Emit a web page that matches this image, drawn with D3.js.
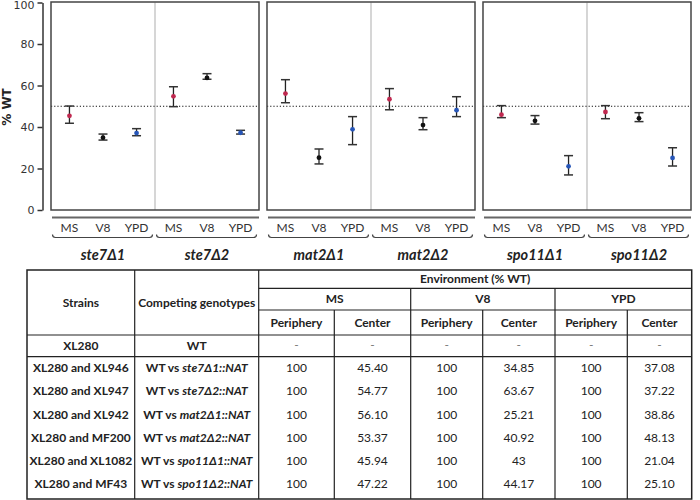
<!DOCTYPE html>
<html><head><meta charset="utf-8">
<script src="https://cdn.jsdelivr.net/npm/d3@7"></script>
<style>body{margin:0;background:#fff}svg{display:block}</style>
</head><body>
<svg id="c" width="700" height="500"></svg>
<script>
// ---------- data ----------
const mutants = ["ste7Δ1","ste7Δ2","mat2Δ1","mat2Δ2","spo11Δ1","spo11Δ2"];
const envs = ["MS","V8","YPD"];
const centerMS  = ["45.40","54.77","56.10","53.37","45.94","47.22"];
const centerV8  = ["34.85","63.67","25.21","40.92","43","44.17"];
const centerYPD = ["37.08","37.22","38.86","48.13","21.04","25.10"];
const lowMS  = [41.8,49.8,51.7,48.3,44.5,44.0];
const highMS = [50.1,59.4,62.8,58.5,50.3,50.3];
const lowV8  = [33.7,63.0,22.2,38.7,41.4,42.6];
const highV8 = [36.6,65.7,29.4,44.5,45.5,46.9];
const lowYPD  = [35.8,36.6,31.5,45.0,16.9,21.2];
const highYPD = [39.2,38.4,45.0,54.6,26.2,30.0];
const yTicks = [0,20,40,60,80,100];
const strains = ["XL280 and XL946","XL280 and XL947","XL280 and XL942","XL280 and MF200","XL280 and XL1082","XL280 and MF43"];
const genotypes = ["ste7Δ1::NAT","ste7Δ2::NAT","mat2Δ1::NAT","mat2Δ2::NAT","spo11Δ1::NAT","spo11Δ2::NAT"];
const periphery = ["100","100","100","100","100","100"];
const envColors = {MS:"#c0284f", V8:"#111111", YPD:"#2756b8"};

const centers = {MS:centerMS, V8:centerV8, YPD:centerYPD};
const lows = {MS:lowMS, V8:lowV8, YPD:lowYPD};
const highs = {MS:highMS, V8:highV8, YPD:highYPD};

const points = [];
mutants.forEach((m,i)=>envs.forEach(e=>points.push({m, i, e, v:+centers[e][i], lo:lows[e][i], hi:highs[e][i]})));

// ---------- chart ----------
const svg = d3.select("#c");
const sans = "Lato, 'Open Sans', sans-serif";
const y = d3.scaleLinear().domain([0,100]).range([210,2.5]);
const panelX = d3.scaleBand().domain([0,1,2]).range([51,691]).paddingInner(0.037);
const pw = panelX.bandwidth();
const halfX = d3.scaleBand().domain([0,1]).range([0,pw]);
const envX = d3.scalePoint().domain(envs).range([0,halfX.bandwidth()]).padding(0.55);
const xOf = (i,e) => panelX(Math.floor(i/2)) + halfX(i%2) + envX(e);

// y axis
const ax = svg.append("g").attr("transform","translate(42.5,0)")
  .call(d3.axisLeft(y).tickValues(yTicks).tickSize(5).tickSizeOuter(0).tickPadding(3));
ax.select(".domain").attr("stroke","#333").attr("stroke-width",1.5);
ax.selectAll(".tick line").attr("stroke","#333").attr("stroke-width",1.5);
ax.selectAll("text").attr("font-family","'DejaVu Sans', sans-serif").attr("font-size",11).attr("fill","#333");
ax.selectAll(".tick").filter(d=>d===100).select("text").attr("dy","0.55em");
svg.append("text").attr("transform","translate(11,107) rotate(-90)").attr("text-anchor","middle")
  .attr("font-family","'DejaVu Sans', sans-serif").attr("font-weight","bold").attr("font-size",12).attr("fill","#222").text("% WT");

[0,1,2].forEach(p=>{
  const x0 = panelX(p);
  const g = svg.append("g");
  g.append("line").attr("x1",x0+pw/2).attr("x2",x0+pw/2).attr("y1",y(100)).attr("y2",y(0)).attr("stroke","#c8c8c8").attr("stroke-width",1.5);
  g.append("line").attr("x1",x0).attr("x2",x0+pw).attr("y1",y(50)).attr("y2",y(50)).attr("stroke","#111").attr("stroke-width",1).attr("stroke-dasharray","1.2,2");
  g.append("rect").attr("x",x0).attr("y",y(100)-0.5).attr("width",pw).attr("height",y(0)-y(100)+0.5).attr("fill","none").attr("stroke","#444").attr("stroke-width",1.5);
  g.append("line").attr("x1",x0+1).attr("x2",x0+pw).attr("y1",217.5).attr("y2",217.5).attr("stroke","#666").attr("stroke-width",2);
});

// error bars and points
const eg = svg.append("g").selectAll("g").data(points).join("g");
eg.append("line").attr("x1",d=>xOf(d.i,d.e)).attr("x2",d=>xOf(d.i,d.e)).attr("y1",d=>y(d.hi)).attr("y2",d=>y(d.lo)).attr("stroke","#222").attr("stroke-width",1.3);
eg.append("line").attr("x1",d=>xOf(d.i,d.e)-4.5).attr("x2",d=>xOf(d.i,d.e)+4.5).attr("y1",d=>y(d.hi)).attr("y2",d=>y(d.hi)).attr("stroke","#333").attr("stroke-width",1.5);
eg.append("line").attr("x1",d=>xOf(d.i,d.e)-4.5).attr("x2",d=>xOf(d.i,d.e)+4.5).attr("y1",d=>y(d.lo)).attr("y2",d=>y(d.lo)).attr("stroke","#333").attr("stroke-width",1.5);
eg.append("circle").attr("cx",d=>xOf(d.i,d.e)).attr("cy",d=>y(d.v)).attr("r",2.4).attr("fill",d=>envColors[d.e]);

// env labels, braces, mutant labels
mutants.forEach((m,i)=>{
  const hx = panelX(Math.floor(i/2)) + halfX(i%2);
  const hw = halfX.bandwidth();
  envs.forEach(e=>{
    svg.append("text").attr("x",hx+envX(e)).attr("y",232).attr("text-anchor","middle")
      .attr("font-family",sans).attr("font-size",12).attr("fill","#333").text(e);
  });
  const bx0 = hx+1.5, bx1 = hx+hw-2.5, by = 237.5;
  svg.append("path").attr("d",`M${bx0},${by-3} Q${bx0},${by} ${bx0+3},${by} L${bx1-3},${by} Q${bx1},${by} ${bx1},${by-3}`)
    .attr("fill","none").attr("stroke","#444").attr("stroke-width",1.2);
  svg.append("text").attr("x",hx+hw/2).attr("y",260).attr("text-anchor","middle")
    .attr("font-family",sans).attr("font-size",14.5).attr("font-weight","bold").attr("font-style","italic").attr("fill","#222").text(m);
});

// ---------- table ----------
const colX = [27,134.7,258.7,334.3,410.7,482.7,555,627.3,691.7];
const tTop = 270, rEnv = 288.3, rGrp = 310, rHead = 335, rWT = 356.7, tBot = 499;
const tg = svg.append("g").attr("stroke","#222");
const L = (x1,y1,x2,y2,w)=>tg.append("line").attr("x1",x1).attr("y1",y1).attr("x2",x2).attr("y2",y2).attr("stroke-width",w||1.2);
tg.append("rect").attr("x",colX[0]).attr("y",tTop).attr("width",colX[8]-colX[0]).attr("height",tBot-tTop).attr("fill","none").attr("stroke-width",1.5);
L(colX[2],rEnv,colX[8],rEnv); L(colX[2],rGrp,colX[8],rGrp);
L(colX[0],rHead,colX[8],rHead); L(colX[0],rWT,colX[8],rWT);
L(colX[1],tTop,colX[1],tBot); L(colX[2],tTop,colX[2],tBot);
[4,6].forEach(k=>L(colX[k],rEnv,colX[k],tBot));
[3,5,7].forEach(k=>L(colX[k],rGrp,colX[k],tBot));

const T = (x,yy,txt,bold)=>svg.append("text").attr("x",x).attr("y",yy).attr("dy","0.35em").attr("text-anchor","middle")
  .attr("font-family",sans).attr("font-size",12).attr("font-weight",bold?"bold":"normal").attr("fill","#222").text(txt);
const mid = (a,b)=>(a+b)/2;
T(mid(colX[0],colX[1]),mid(tTop,rHead),"Strains",true);
T(mid(colX[1],colX[2]),mid(tTop,rHead),"Competing genotypes",true);
T(mid(colX[2],colX[8]),mid(tTop,rEnv),"Environment (% WT)",true);
envs.forEach((e,k)=>T(mid(colX[2+2*k],colX[4+2*k]),mid(rEnv,rGrp),e,true));
envs.forEach((e,k)=>{
  T(mid(colX[2+2*k],colX[3+2*k]),mid(rGrp,rHead),"Periphery",true);
  T(mid(colX[3+2*k],colX[4+2*k]),mid(rGrp,rHead),"Center",true);
});
T(mid(colX[0],colX[1]),mid(rHead,rWT),"XL280",true);
T(mid(colX[1],colX[2]),mid(rHead,rWT),"WT",true);
for(let k=2;k<8;k++) T(mid(colX[k],colX[k+1]),mid(rHead,rWT)-1,"-",false).attr("fill","#777");

const rowY = d3.scaleBand().domain(d3.range(strains.length)).range([rWT,tBot-4]);
strains.forEach((s,r)=>{
  const yy = rowY(r)+rowY.bandwidth()/2;
  T(mid(colX[0],colX[1]),yy,s,true);
  const t = T(mid(colX[1],colX[2]),yy,"",true);
  t.append("tspan").text("WT vs ");
  t.append("tspan").attr("font-style","italic").text(genotypes[r]);
  const vals = [periphery[r],centerMS[r],periphery[r],centerV8[r],periphery[r],centerYPD[r]];
  vals.forEach((v,k)=>T(mid(colX[2+k],colX[3+k]),yy,v,false));
});
</script>
</body></html>
